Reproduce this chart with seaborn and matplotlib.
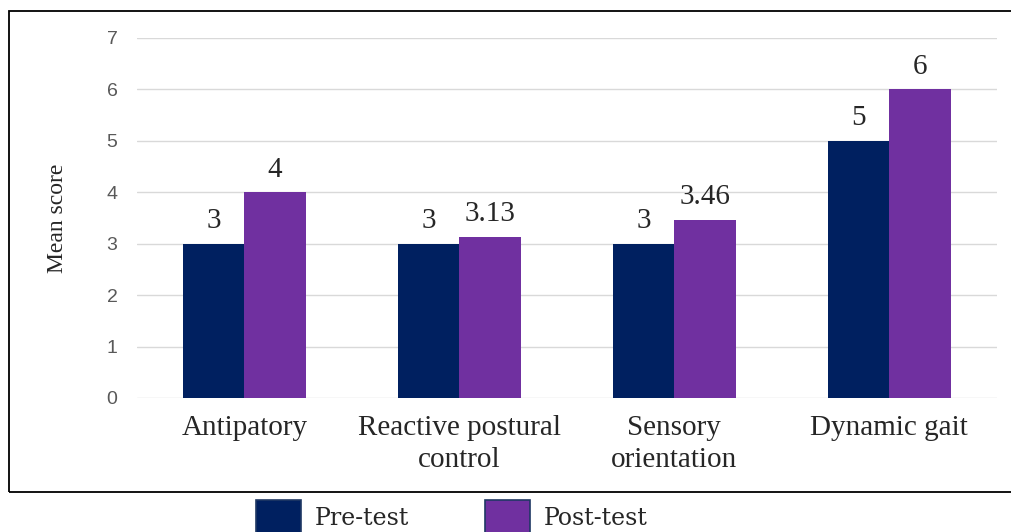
import pandas as pd
import seaborn as sns
from matplotlib import pyplot as plt
from matplotlib.patches import Rectangle, Patch

categories = ['Antipatory', 'Reactive postural\ncontrol', 'Sensory\norientation', 'Dynamic gait']
pre_test = [3, 3, 3, 5]
post_test = [4, 3.13, 3.46, 6]
groups = ['Pre-test', 'Post-test']
colors = ['#002060', '#7030A0']

df = pd.DataFrame({
    'category': categories * 2,
    'group': [groups[0]] * 4 + [groups[1]] * 4,
    'score': pre_test + post_test,
})

sns.set_style('white')
plt.rcParams['font.family'] = ['Liberation Serif', 'DejaVu Serif']

fig = plt.figure(figsize=(10.11, 5.32), dpi=100)
ax = fig.add_axes([0.1355, 0.2519, 0.8505, 0.6767])

sns.barplot(data=df, x='category', y='score', hue='group', palette=colors,
            width=0.57, gap=0, saturation=1, linewidth=0, ax=ax, legend=False)

for cont in ax.containers:
    ax.bar_label(cont, labels=[f'{v:g}' for v in cont.datavalues],
                 padding=7, fontsize=21, family='Liberation Serif')

ax.set_ylim(0, 7)
ax.set_xlim(-0.5, 3.5)
ax.set_yticks(range(8))
ax.yaxis.grid(True, color='#d9d9d9', linewidth=1)
ax.set_axisbelow(True)
for s in ax.spines.values():
    s.set_visible(False)
ax.tick_params(axis='y', length=0, pad=14, labelsize=14, labelcolor='#595959')
ax.tick_params(axis='x', length=0, pad=12, labelsize=21)
for t in ax.get_xticklabels():
    t.set_linespacing(1.3)
for t in ax.get_yticklabels():
    t.set_family('Liberation Sans')
ax.set_xlabel('')
ax.set_ylabel('Mean score', fontsize=17)
ax.yaxis.set_label_coords(-0.08, 0.5)

fig.patches.append(Rectangle((9 / 1011, 1 - 492 / 532), 1.0, (492 - 11) / 532,
                             transform=fig.transFigure, fill=False,
                             edgecolor='black', linewidth=1.3))

handles = [Patch(facecolor=c, edgecolor='#1f3864', linewidth=1.2) for c in colors]
fig.legend(handles, groups, loc='lower center', bbox_to_anchor=(0.447, -0.045),
           ncol=2, frameon=False, handlelength=1.9, handleheight=1.9,
           columnspacing=3.2, handletextpad=0.6,
           prop={'family': 'DejaVu Serif', 'size': 17})

fig.savefig('out.png', dpi=100)
